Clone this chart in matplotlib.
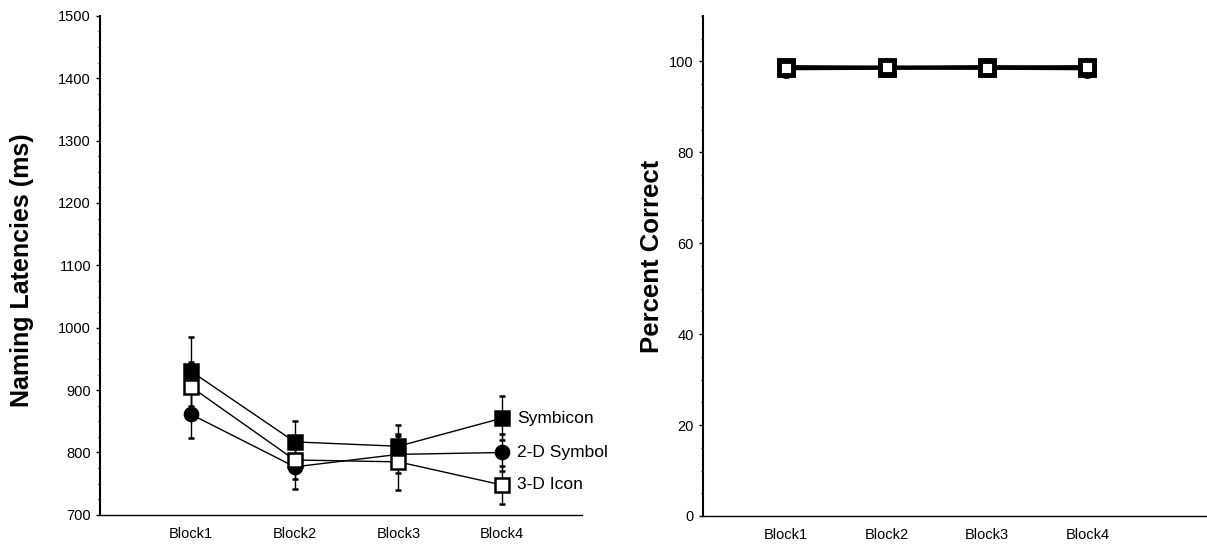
import matplotlib.pyplot as plt
from matplotlib.ticker import MultipleLocator

plt.rcParams['font.family'] = ['Liberation Sans', 'DejaVu Sans']

# data
blocks = ['Block1', 'Block2', 'Block3', 'Block4']
series_names = ['Symbicon', '2-D Symbol', '3-D Icon']

latency_symbicon = [930, 817, 810, 855]
latency_2d = [861, 777, 797, 800]
latency_3d = [905, 788, 785, 748]
err_symbicon = [55, 34, 34, 35]
err_2d = [38, 35, 30, 30]
err_3d = [40, 30, 45, 30]

correct_symbicon = [98.8, 98.6, 98.8, 98.6]
correct_2d = [98.4, 98.5, 98.5, 98.4]
correct_3d = [98.6, 98.7, 98.6, 98.8]

x = [1, 2, 3, 4]
styles = [dict(marker='s', mfc='black'),
          dict(marker='o', mfc='black'),
          dict(marker='s', mfc='white')]

fig = plt.figure(figsize=(12.07, 5.46), dpi=100)

# 左图: 命名潜伏期
ax1 = fig.add_axes([0.0829, 0.057, 0.399, 0.914])
lat = [latency_symbicon, latency_2d, latency_3d]
errs = [err_symbicon, err_2d, err_3d]
for vals, err, st in zip(lat, errs, styles):
    ax1.errorbar(x, vals, yerr=err, color='black', lw=1.0, elinewidth=1.0,
                 capsize=2.5, marker=st['marker'], mfc=st['mfc'], mec='black',
                 mew=1.8, ms=9.5)
for name, vals in zip(series_names, lat):
    ax1.text(4.15, vals[-1], name, fontsize=12.5, va='center', ha='left')
ax1.set_xlim(0.12, 4.77)
ax1.set_ylim(700, 1500)
ax1.yaxis.set_major_locator(MultipleLocator(100))
ax1.yaxis.set_minor_locator(MultipleLocator(25))
ax1.set_xticks(x)
ax1.set_xticklabels(blocks)
ax1.set_ylabel('Naming Latencies (ms)', fontsize=18, fontweight='bold')
ax1.yaxis.set_label_coords(-0.138, 0.49)

# 右图: 正确率
ax2 = fig.add_axes([0.5824, 0.055, 0.42, 0.916])
corr = [correct_symbicon, correct_2d, correct_3d]
for vals, st in zip(corr, styles):
    ax2.plot(x, vals, color='black', lw=2.5, marker=st['marker'], mfc=st['mfc'],
             mec='black', mew=3.5, ms=10)
ax2.set_xlim(0.17, 5.22)
ax2.set_ylim(0, 110)
ax2.yaxis.set_major_locator(MultipleLocator(20))
ax2.yaxis.set_minor_locator(MultipleLocator(5))
ax2.set_xticks(x)
ax2.set_xticklabels(blocks)
ax2.set_ylabel('Percent Correct', fontsize=18.5, fontweight='bold')
ax2.yaxis.set_label_coords(-0.076, 0.52)

for ax in (ax1, ax2):
    ax.spines['top'].set_visible(False)
    ax.spines['right'].set_visible(False)
    ax.spines['left'].set_linewidth(1.5)
    ax.spines['bottom'].set_linewidth(1.0)
    ax.spines['bottom'].set_linestyle((0, (2, 1)))
    ax.tick_params(axis='x', length=0, labelsize=10.5, pad=9)
    ax.tick_params(axis='y', which='major', length=3, width=1, labelsize=10.5)
    ax.tick_params(axis='y', which='minor', length=1.5, width=1)

fig.savefig('out.png', dpi=100)
